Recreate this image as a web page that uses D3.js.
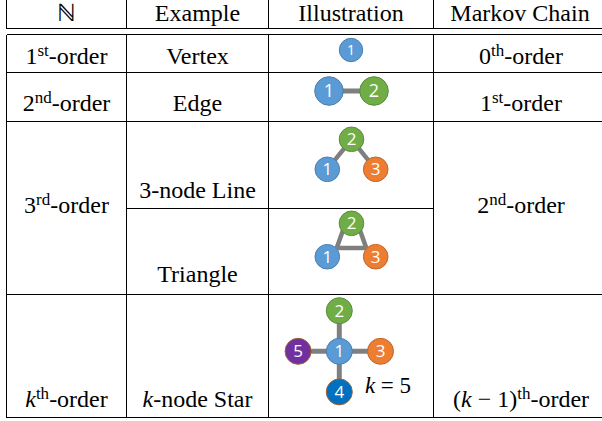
<!DOCTYPE html>
<html><head><meta charset="utf-8">
<script src="https://cdn.jsdelivr.net/npm/d3@7"></script>
<style>body{margin:0;background:#fff}svg{display:block}</style>
</head><body><svg id="c" width="602" height="421"></svg>
<script>
// ---------- data ----------
const headers = ["ℕ", "Example", "Illustration", "Markov Chain"];
// rich labels: [text, style] with style "" | "sup" | "it"
const orderLabels = [
  [["1",""],["st","sup"],["-order",""]],
  [["2",""],["nd","sup"],["-order",""]],
  [["3",""],["rd","sup"],["-order",""]],
  [["k","it"],["th","sup"],["-order",""]]
];
const exampleLabels = [
  [["Vertex",""]],
  [["Edge",""]],
  [["3-node Line",""]],
  [["Triangle",""]],
  [["k","it"],["-node Star",""]]
];
const markovLabels = [
  [["0",""],["th","sup"],["-order",""]],
  [["1",""],["st","sup"],["-order",""]],
  [["2",""],["nd","sup"],["-order",""]],
  [["(",""],["k","it"],[" − 1)",""],["th","sup"],["-order",""]]
];
const graphs = [
  {nodes:[{id:1,x:0,y:0}], edges:[]},
  {nodes:[{id:1,x:-1,y:0},{id:2,x:1,y:0}], edges:[[1,2]]},
  {nodes:[{id:2,x:0,y:-1},{id:1,x:-1,y:0},{id:3,x:1,y:0}], edges:[[2,1],[2,3]]},
  {nodes:[{id:2,x:0,y:-1},{id:1,x:-1,y:0},{id:3,x:1,y:0}], edges:[[2,1],[2,3],[1,3]]},
  {nodes:[{id:2,x:0,y:-1},{id:5,x:-1,y:0},{id:1,x:0,y:0},{id:3,x:1,y:0},{id:4,x:0,y:1}], edges:[[1,2],[1,3],[1,4],[1,5]]}
];
const starNote = [["k","it"],[" = 5",""]];

// ---------- styles / layout ----------
const nodeFill = {1:"#5B9BD5",2:"#70AD47",3:"#ED7D31",4:"#0070C0",5:"#7030A0"};
const nodeStroke = {1:"#4A7FB0",2:"#5A8C3A",3:"#C0652A",4:"#A0622E",5:"#A0622E"};
const colX = [6.5, 126.5, 268.5, 433.5, 606.5];
const colCenter = i => (colX[i] + colX[i+1]) / 2;
const serif = "'Liberation Serif','Times New Roman',serif";
const sans = "'Open Sans','Liberation Sans',sans-serif";

const svg = d3.select("#c");
const gLines = svg.append("g").attr("stroke","#000").attr("stroke-width",1).attr("shape-rendering","crispEdges");
const gEdges = svg.append("g");
const gNodes = svg.append("g");
const gText = svg.append("g").attr("font-family",serif).attr("font-size",24).attr("fill","#000").attr("text-anchor","middle");

// ---------- table rules ----------
const hLines = [28.5, 34.5, 72.5, 121.5, 294.5, 417.5];
hLines.forEach(y => gLines.append("line").attr("x1",colX[0]).attr("x2",610).attr("y1",y).attr("y2",y));
gLines.append("line").attr("x1",colX[1]).attr("x2",colX[3]).attr("y1",208.5).attr("y2",208.5);
colX.forEach(x => {
  gLines.append("line").attr("x1",x).attr("x2",x).attr("y1",0).attr("y2",28.5);
  gLines.append("line").attr("x1",x).attr("x2",x).attr("y1",34.5).attr("y2",417.5);
});

// ---------- rich text ----------
function rich(x, y, parts, size) {
  const t = gText.append("text").attr("x", x).attr("y", y);
  if (size) t.attr("font-size", size);
  let off = 0;
  parts.forEach(([s, st]) => {
    const sp = t.append("tspan").text(s);
    if (st === "sup") {
      sp.attr("font-size", 17).attr("dy", -8 - off); off = -8;
    } else {
      if (off !== 0) { sp.attr("dy", -off); off = 0; }
      if (st === "it") sp.attr("font-style", "italic");
    }
  });
  return t;
}

// header
headers.forEach((h, i) => rich(colCenter(i), 20.5, [[h, ""]]));

// column 1 : order
const orderY = [64, 111, 213, 407];
orderLabels.forEach((l, i) => rich(colCenter(0), orderY[i], l));
// column 2 : example
const exY = [64, 111, 198, 282, 407];
exampleLabels.forEach((l, i) => rich(colCenter(1), exY[i], l));
// column 4 : markov
const mkY = [64, 111, 213, 407];
markovLabels.forEach((l, i) => rich(colCenter(3) + 1, mkY[i], l));

// ---------- illustrations ----------
const gLayout = [
  {cx:351, cy:50,    ux:22,   uy:22,   r:11.7, fs:14, ew:5},
  {cx:351.5, cy:91,  ux:22.5, uy:22,   r:14.3, fs:18, ew:5},
  {cx:351.5, cy:169.3, ux:24.2, uy:30, r:12.3, fs:17, ew:4.5},
  {cx:351.5, cy:256.7, ux:24.2, uy:33.4, r:12.3, fs:17, ew:4.5, tri:true},
  {cx:339.3, cy:351.3, ux:41.2, uy:40.6, r:13, fs:17, ew:5}
];
graphs.forEach((g, gi) => {
  const L = gLayout[gi];
  const sx = d3.scaleLinear().domain([-1, 1]).range([L.cx - L.ux, L.cx + L.ux]);
  const sy = d3.scaleLinear().domain([-1, 1]).range([L.cy - L.uy, L.cy + L.uy]);
  const byId = new Map(g.nodes.map(n => [n.id, n]));
  const port = (n, o) => {
    let px = sx(n.x), py = sy(n.y);
    if (L.tri) {
      const s = Math.sign(o.x - n.x);
      if (n.y < 0) { px += s * 6; }
      else { px += s * 9.4; py -= 8.7; }
    }
    return [px, py];
  };
  g.edges.forEach(([a, b]) => {
    const na = byId.get(a), nb = byId.get(b);
    const pa = port(na, nb), pb = port(nb, na);
    gEdges.append("line").attr("x1", pa[0]).attr("y1", pa[1]).attr("x2", pb[0]).attr("y2", pb[1])
      .attr("stroke", "#7F7F7F").attr("stroke-width", L.ew);
  });
  const ng = gNodes.selectAll(null).data(g.nodes).join("g")
    .attr("transform", d => `translate(${sx(d.x)},${sy(d.y)})`);
  ng.append("circle").attr("r", L.r).attr("fill", d => nodeFill[d.id])
    .attr("stroke", d => nodeStroke[d.id]).attr("stroke-width", 1);
  ng.append("text").text(d => d.id).attr("text-anchor", "middle").attr("dy", "0.36em")
    .attr("font-family", sans).attr("font-size", L.fs).attr("fill", "#fff");
});
rich(388, 392.7, starNote, 23);
</script>
</body></html>
